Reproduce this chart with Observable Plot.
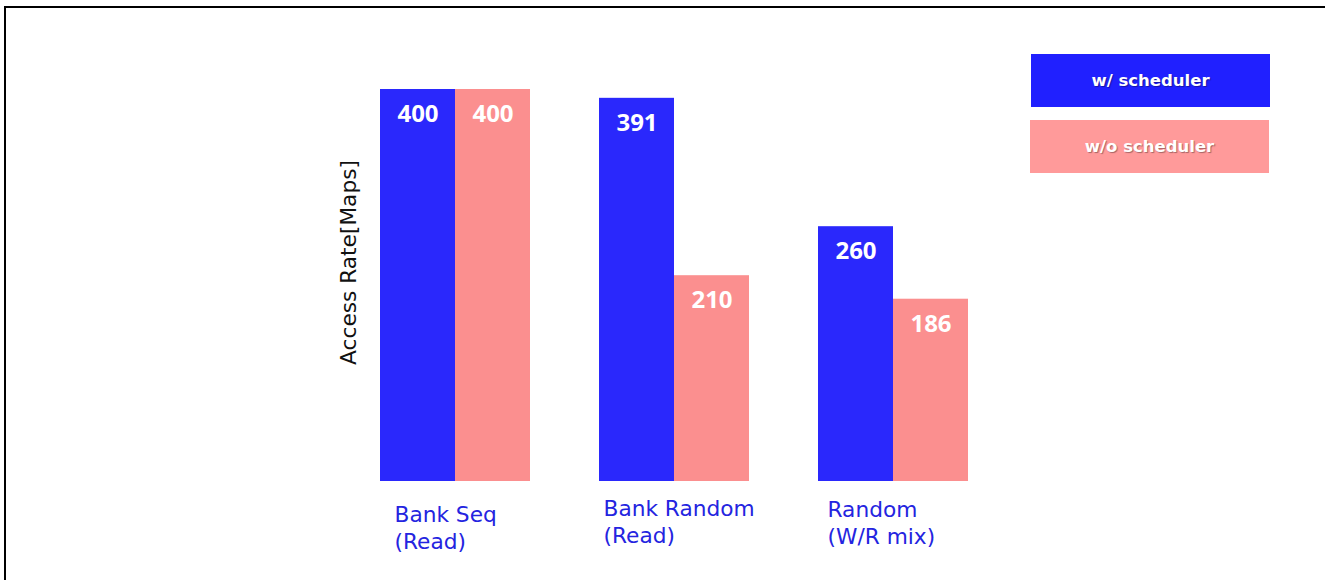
<!DOCTYPE html>
<html><head><meta charset="utf-8">
<script src="https://cdn.jsdelivr.net/npm/d3@7"></script>
<script src="https://cdn.jsdelivr.net/npm/@observablehq/plot@0.6"></script>
<style>
body{margin:0;background:#fff;}
#wrap{position:relative;width:1325px;height:580px;overflow:hidden;}
#chart{position:absolute;left:0;top:0;}
#frame{position:absolute;left:4px;top:6px;right:-10px;bottom:-10px;border-top:2px solid #000;border-left:2px solid #000;pointer-events:none;}
.leg{position:absolute;width:239px;height:53px;display:flex;align-items:center;justify-content:center;color:#fff;font:bold 16.5px "DejaVu Sans",sans-serif;text-shadow:1px 1px 1px rgba(0,0,0,.35);}
</style></head><body>
<div id="wrap"><div id="chart"></div><div id="frame"></div>
<div class="leg" id="leg0" style="left:1031px;top:54px;"></div>
<div class="leg" id="leg1" style="left:1030px;top:120px;"></div>
</div>
<script>
const categories = ["Bank Seq\n(Read)", "Bank Random\n(Read)", "Random\n(W/R mix)"];
const series = ["w/ scheduler", "w/o scheduler"];
const withScheduler = [400, 391, 260];
const withoutScheduler = [400, 210, 186];
const yLabel = "Access Rate[Maps]";

const barColors = ["#2a28fc", "#fb8f8f"];
const legendColors = ["#2020ff", "#ff9a9a"];
const labelOffsets = [[14, 22], [4, 16], [9, 17]];

const rows = categories.flatMap((c, i) => [
  {cat: c, s: series[0], v: withScheduler[i]},
  {cat: c, s: series[1], v: withoutScheduler[i]}
]);

const chart = Plot.plot({
  width: 1325, height: 580,
  marginTop: 89, marginBottom: 99, marginLeft: 379, marginRight: 357,
  fx: {domain: categories, paddingInner: 0.3166, paddingOuter: 0, axis: null},
  x: {domain: series, padding: 0, axis: null},
  y: {domain: [0, 400], axis: null},
  color: {domain: series, range: barColors},
  style: {background: "transparent", fontFamily: "DejaVu Sans"},
  marks: [
    Plot.barY(rows, {fx: "cat", x: "s", y: "v", fill: "s"}),
    Plot.text(rows, {fx: "cat", x: "s", y: "v", text: d => String(d.v), dy: 25,
      fill: "white", fontWeight: "bold", fontSize: 24, fontFamily: "Open Sans"}),
    ...categories.map((c, i) => Plot.text([c], {
      fx: d => d, text: d => d, frameAnchor: "bottom-left", textAnchor: "start",
      lineAnchor: "top", dx: labelOffsets[i][0], dy: labelOffsets[i][1],
      fontSize: 21.7, lineHeight: 1.22, fill: "#2424e0"
    })),
    Plot.text([yLabel], {fx: () => categories[0], text: d => d, frameAnchor: "left",
      rotate: -90, dx: -31, dy: -23, textAnchor: "middle", lineAnchor: "middle",
      fontSize: 21.7, fill: "#111"})
  ]
});
document.getElementById("chart").appendChild(chart);
series.forEach((s, i) => {
  const el = document.getElementById("leg" + i);
  el.textContent = s;
  el.style.background = legendColors[i];
});
</script>
</body></html>
